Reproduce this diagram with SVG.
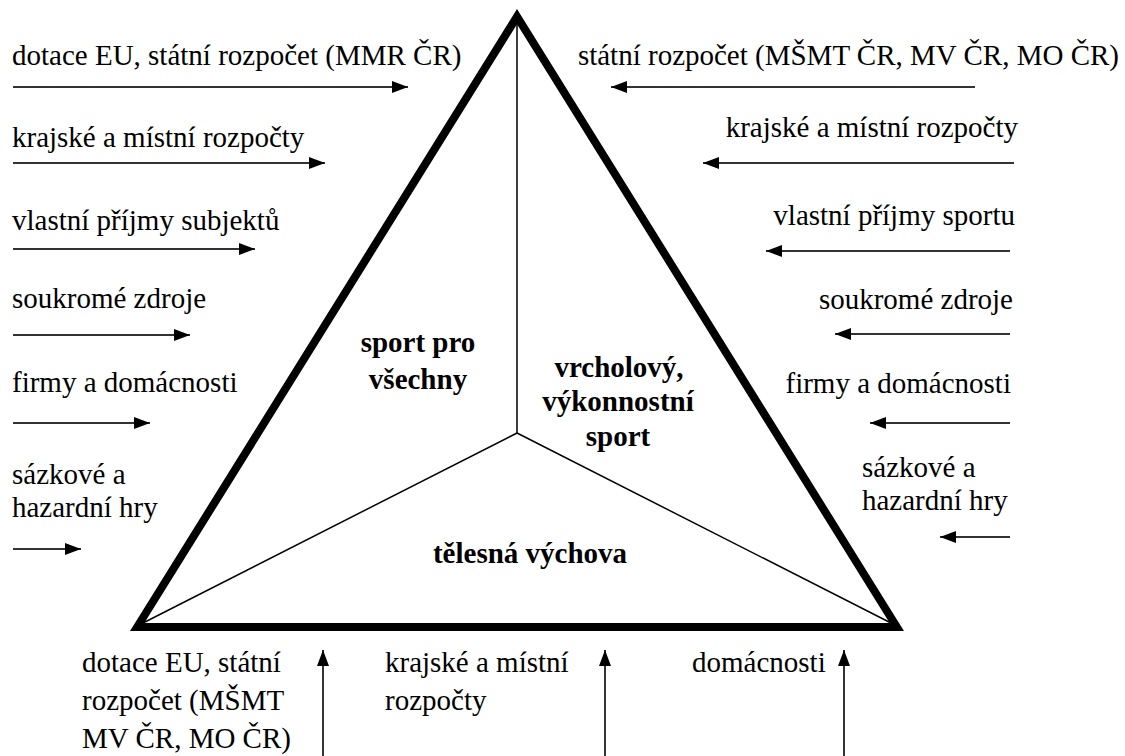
<svg xmlns="http://www.w3.org/2000/svg" width="1125" height="756" viewBox="0 0 1125 756">
<defs>
<marker id="ah" markerUnits="userSpaceOnUse" markerWidth="16" markerHeight="12" refX="16" refY="6" orient="auto">
<path d="M0,0 L16,6 L0,12 z" fill="#000"/>
</marker>
<style>
.t{font-family:"Liberation Serif","Times New Roman",serif;font-size:29px;fill:#000}
.r{text-anchor:end}
.b{font-family:"Liberation Serif","Times New Roman",serif;font-size:29px;font-weight:bold;fill:#000;text-anchor:middle}
.a{stroke:#333;stroke-width:2;fill:none;marker-end:url(#ah)}
.tri{fill:#fff;stroke:#000;stroke-width:8;stroke-linejoin:miter;stroke-miterlimit:10}
.div{stroke:#000;stroke-width:1.5;fill:none}
</style>
</defs>
<rect width="1125" height="756" fill="#fff"/>
<g id="triangle">
<polygon class="tri" points="517,16.6 137.2,627 896.8,627"/>
<path class="div" d="M517,17 L517,433 M517,433 L143,623 M517,433 L891,623"/>
</g>
<g id="sport-pro-vsechny">
<text class="b" x="418" y="352">sport pro</text>
<text class="b" x="418" y="389">všechny</text>
</g>
<g id="vrcholovy-sport">
<text class="b" x="619" y="377">vrcholový,</text>
<text class="b" x="618" y="411">výkonnostní</text>
<text class="b" x="618" y="446">sport</text>
</g>
<g id="telesna-vychova">
<text class="b" x="530" y="563">tělesná výchova</text>
</g>
<g id="left-sources">
<text class="t" x="12" y="65">dotace EU, státní rozpočet (MMR ČR)</text>
<text class="t" x="12" y="147">krajské a místní rozpočty</text>
<text class="t" x="12" y="230">vlastní příjmy subjektů</text>
<text class="t" x="12" y="308">soukromé zdroje</text>
<text class="t" x="12" y="392">firmy a domácnosti</text>
<text class="t" x="12" y="484">sázkové a</text>
<text class="t" x="12" y="517">hazardní hry</text>
</g>
<g id="right-sources">
<text class="t r" x="1119" y="65">státní rozpočet (MŠMT ČR, MV ČR, MO ČR)</text>
<text class="t r" x="1018" y="137">krajské a místní rozpočty</text>
<text class="t r" x="1015" y="225">vlastní příjmy sportu</text>
<text class="t r" x="1013" y="309">soukromé zdroje</text>
<text class="t r" x="1011" y="393">firmy a domácnosti</text>
<text class="t" x="862" y="477">sázkové a</text>
<text class="t" x="862" y="510">hazardní hry</text>
</g>
<g id="bottom-sources">
<text class="t" x="82" y="672">dotace EU, státní</text>
<text class="t" x="82" y="710">rozpočet (MŠMT</text>
<text class="t" x="82" y="748">MV ČR, MO ČR)</text>
<text class="t" x="385" y="672">krajské a místní</text>
<text class="t" x="385" y="710">rozpočty</text>
<text class="t" x="692" y="672">domácnosti</text>
</g>
<g id="connectors">
<line class="a" x1="13" y1="87" x2="408" y2="87"/>
<line class="a" x1="13" y1="163" x2="325" y2="163"/>
<line class="a" x1="13" y1="249" x2="255" y2="249"/>
<line class="a" x1="13" y1="335" x2="190" y2="335"/>
<line class="a" x1="13" y1="423" x2="150" y2="423"/>
<line class="a" x1="13" y1="549" x2="81" y2="549"/>
<line class="a" x1="975" y1="87" x2="611" y2="87"/>
<line class="a" x1="1014" y1="163" x2="703" y2="163"/>
<line class="a" x1="1010" y1="251" x2="766" y2="251"/>
<line class="a" x1="1010" y1="334" x2="835" y2="334"/>
<line class="a" x1="1010" y1="423" x2="870" y2="423"/>
<line class="a" x1="1010" y1="537" x2="940" y2="537"/>
<line class="a" x1="323" y1="756" x2="323" y2="650"/>
<line class="a" x1="605" y1="756" x2="605" y2="650"/>
<line class="a" x1="844" y1="756" x2="844" y2="650"/>
</g>
</svg>
